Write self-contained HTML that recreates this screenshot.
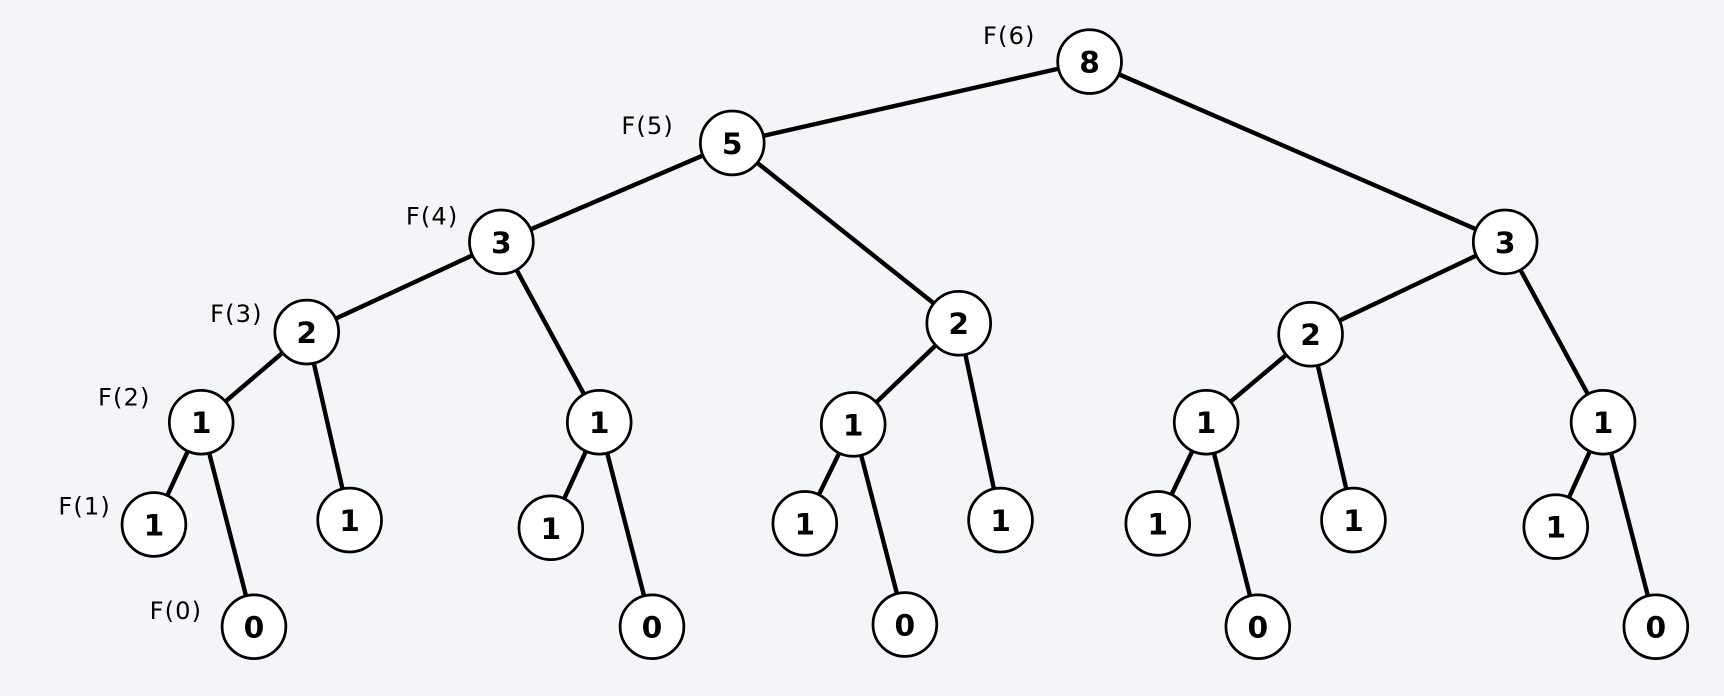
<!DOCTYPE html>
<html><head><style>html,body{margin:0;padding:0;background:#f4f5f9;}svg{display:block}</style></head>
<body>
<svg width="1724" height="696" viewBox="0 0 1568 633" xmlns="http://www.w3.org/2000/svg">
<rect width="1568" height="633" fill="#f4f5f9"/>
<g stroke="#000" stroke-width="4" fill="none">
<line x1="991" y1="56" x2="666" y2="130"/>
<line x1="991" y1="56" x2="1369" y2="220"/>
<line x1="666" y1="130" x2="456" y2="220"/>
<line x1="666" y1="130" x2="872" y2="294"/>
<line x1="456" y1="220" x2="279" y2="302"/>
<line x1="456" y1="220" x2="545" y2="384"/>
<line x1="279" y1="302" x2="183" y2="384"/>
<line x1="279" y1="302" x2="318" y2="473"/>
<line x1="183" y1="384" x2="140" y2="477"/>
<line x1="183" y1="384" x2="231" y2="570"/>
<line x1="545" y1="384" x2="501" y2="480"/>
<line x1="545" y1="384" x2="593" y2="570"/>
<line x1="872" y1="294" x2="776" y2="386"/>
<line x1="872" y1="294" x2="910" y2="473"/>
<line x1="776" y1="386" x2="732" y2="476"/>
<line x1="776" y1="386" x2="823" y2="568"/>
<line x1="1369" y1="220" x2="1192" y2="304"/>
<line x1="1369" y1="220" x2="1458" y2="384"/>
<line x1="1192" y1="304" x2="1097" y2="384"/>
<line x1="1192" y1="304" x2="1231" y2="473"/>
<line x1="1097" y1="384" x2="1053" y2="476"/>
<line x1="1097" y1="384" x2="1144" y2="570"/>
<line x1="1458" y1="384" x2="1415" y2="479"/>
<line x1="1458" y1="384" x2="1506" y2="570"/>
</g>
<g stroke="#000" stroke-width="2.5" fill="#fff">
<circle cx="991" cy="56" r="29"/><circle cx="666" cy="130" r="29"/>
<circle cx="456" cy="220" r="29"/><circle cx="1369" cy="220" r="29"/>
<circle cx="279" cy="302" r="29"/><circle cx="872" cy="294" r="29"/><circle cx="1192" cy="304" r="29"/>
<circle cx="183" cy="384" r="29"/><circle cx="545" cy="384" r="29"/><circle cx="776" cy="386" r="29"/><circle cx="1097" cy="384" r="29"/><circle cx="1458" cy="384" r="29"/>
<circle cx="140" cy="477" r="29"/><circle cx="318" cy="473" r="29"/><circle cx="501" cy="480" r="29"/><circle cx="732" cy="476" r="29"/><circle cx="910" cy="473" r="29"/><circle cx="1053" cy="476" r="29"/><circle cx="1231" cy="473" r="29"/><circle cx="1415" cy="479" r="29"/>
<circle cx="231" cy="570" r="29"/><circle cx="593" cy="570" r="29"/><circle cx="823" cy="568" r="29"/><circle cx="1144" cy="570" r="29"/><circle cx="1506" cy="570" r="29"/>
</g>
<g font-family="'DejaVu Sans','Liberation Sans',sans-serif" font-weight="bold" font-size="27" text-anchor="middle" fill="#000">
<text x="991" y="66">8</text><text x="666" y="140">5</text>
<text x="456" y="230">3</text><text x="1369" y="230">3</text>
<text x="279" y="312">2</text><text x="872" y="304">2</text><text x="1192" y="314">2</text>
<text x="183" y="394">1</text><text x="545" y="394">1</text><text x="776" y="396">1</text><text x="1097" y="394">1</text><text x="1458" y="394">1</text>
<text x="140" y="487">1</text><text x="318" y="483">1</text><text x="501" y="490">1</text><text x="732" y="486">1</text><text x="910" y="483">1</text><text x="1053" y="486">1</text><text x="1231" y="483">1</text><text x="1415" y="489">1</text>
<text x="231" y="580">0</text><text x="593" y="580">0</text><text x="823" y="578">0</text><text x="1144" y="580">0</text><text x="1506" y="580">0</text>
</g>
<g font-family="'DejaVu Sans','Liberation Sans',sans-serif" font-size="22" letter-spacing="1" text-anchor="middle" fill="#000">
<text x="918" y="40">F(6)</text><text x="589" y="122">F(5)</text><text x="393" y="204">F(4)</text>
<text x="215" y="293">F(3)</text><text x="113" y="369">F(2)</text><text x="77" y="468">F(1)</text><text x="160" y="563">F(0)</text>
</g>
</svg>
</body></html>
